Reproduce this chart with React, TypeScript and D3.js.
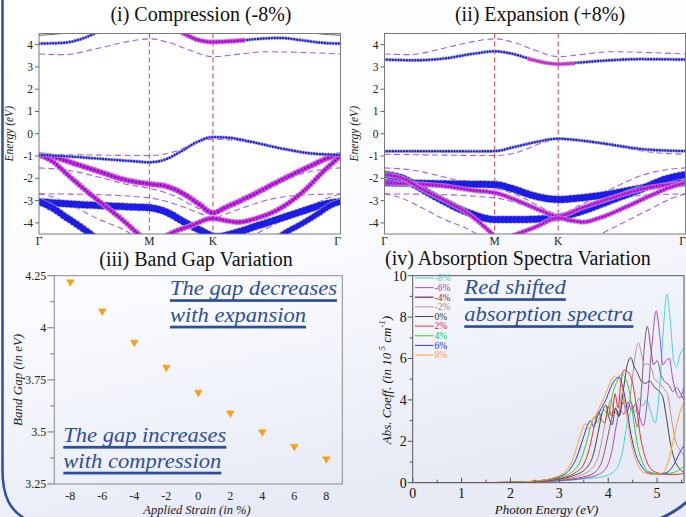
import React from 'react';
import * as d3 from 'd3';

const FONT = '"Liberation Serif", "Times New Roman", serif';
const W = 686, H = 517;

// ---------- Band structure (panels i, ii) ----------
const kPoints = [0, 0.366, 0.577, 1];
const kLabels = ['Γ', 'M', 'K', 'Γ'];
const energyTicks = [4, 3, 2, 1, 0, -1, -2, -3, -4];

// unstrained reference bands (dashed, same in both panels)
const refCond = [[0,3.58],[0.08,3.55],[0.2,3.85],[0.3,4.15],[0.366,4.26],[0.43,4.1],[0.5,3.75],[0.577,3.46],[0.65,3.55],[0.75,3.68],[0.87,3.65],[1,3.58]];
const refVal1 = [[0,-0.92],[0.15,-0.95],[0.366,-0.98],[0.45,-0.8],[0.52,-0.42],[0.577,-0.24],[0.65,-0.3],[0.75,-0.52],[0.88,-0.82],[1,-0.92]];
const refVal2 = [[0,-1.53],[0.1,-1.65],[0.2,-1.95],[0.3,-2.3],[0.366,-2.45],[0.45,-2.8],[0.52,-3.3],[0.577,-3.6],[0.65,-3.2],[0.75,-2.5],[0.87,-1.8],[1,-1.53]];
const refVal3 = [[0,-2.7],[0.15,-2.72],[0.366,-2.88],[0.45,-3.15],[0.52,-3.5],[0.577,-3.75],[0.65,-3.45],[0.75,-3.0],[0.87,-2.75],[1,-2.7]];
const refVal4 = [[0,-2.7],[0.05,-2.85],[0.12,-3.3],[0.2,-3.85],[0.28,-4.3],[0.33,-4.7],[0.45,-5.3],[0.577,-5.5],[0.66,-5.0],[0.72,-4.5],[0.8,-3.95],[0.88,-3.4],[0.95,-2.92],[1,-2.7]];
const refBands = [refCond, refVal1, refVal2, refVal3, refVal4];

// (i) compression -8 %
const compTopLine = [[0,4.42],[0.08,4.5],[0.2,4.8],[0.5,5.0],[0.8,4.8],[0.92,4.5],[1,4.42]];
const compCondA = [[0,4.05],[0.08,4.08],[0.15,4.3],[0.2,4.6],[0.25,4.9]];
const compCondB = [[0.44,4.8],[0.48,4.5],[0.53,4.2],[0.577,4.12],[0.63,4.15],[0.68,4.2]];
const compCondC = [[0.68,4.2],[0.75,4.28],[0.8,4.3],[0.87,4.2],[0.95,4.07],[1,4.05]];
const compVbm = [[0,-0.95],[0.1,-1.02],[0.2,-1.12],[0.3,-1.22],[0.366,-1.28],[0.42,-1.15],[0.47,-0.8],[0.52,-0.4],[0.577,-0.15],[0.63,-0.18],[0.7,-0.35],[0.8,-0.65],[0.9,-0.88],[1,-0.95]];
const compMag1 = [[0,-0.95],[0.05,-1.05],[0.12,-1.35],[0.2,-1.7],[0.28,-2.05],[0.366,-2.25],[0.42,-2.35],[0.48,-2.7],[0.53,-3.15],[0.577,-3.55],[0.62,-3.3],[0.7,-2.8],[0.8,-2.1],[0.9,-1.45],[0.96,-1.08],[1,-0.95]];
const compMag2 = [[0,-0.95],[0.04,-1.2],[0.1,-1.9],[0.16,-2.6],[0.22,-3.25],[0.28,-3.9],[0.33,-4.5],[0.36,-4.8]];
const compMag3 = [[0.4,-4.75],[0.44,-4.45],[0.5,-4.15],[0.577,-3.8],[0.62,-3.9],[0.66,-3.97],[0.72,-3.8],[0.8,-3.35],[0.88,-2.55],[0.95,-1.6],[1,-1.0]];
const compBlue1 = [[0,-3.05],[0.1,-3.15],[0.2,-3.22],[0.3,-3.28],[0.366,-3.32],[0.42,-3.5],[0.48,-3.95],[0.53,-4.3],[0.59,-4.62],[0.65,-4.45],[0.72,-4.15],[0.8,-3.8],[0.88,-3.45],[0.95,-3.15],[1,-3.05]];
const compBlue2 = [[0,-3.05],[0.04,-3.3],[0.09,-3.75],[0.14,-4.2],[0.17,-4.5],[0.2,-4.8]];
const compBlue3 = [[0.78,-4.8],[0.81,-4.5],[0.87,-4.05],[0.93,-3.55],[0.97,-3.2],[1,-3.05]];

// (ii) expansion +8 %
const expCond = [[0,3.33],[0.1,3.3],[0.2,3.38],[0.3,3.6],[0.366,3.7],[0.42,3.6],[0.5,3.3],[0.577,3.13],[0.65,3.2],[0.75,3.3],[0.85,3.35],[1,3.33]];
const expCondMag = [[0.48,3.36],[0.53,3.2],[0.577,3.13],[0.63,3.16]];
const expVbm = [[0,-0.78],[0.15,-0.78],[0.3,-0.79],[0.366,-0.78],[0.43,-0.6],[0.5,-0.38],[0.577,-0.22],[0.65,-0.3],[0.75,-0.48],[0.85,-0.68],[1,-0.78]];
const expBlue1 = [[0,-2.2],[0.1,-2.22],[0.2,-2.25],[0.366,-2.28],[0.42,-2.45],[0.5,-2.8],[0.577,-2.95],[0.65,-2.88],[0.75,-2.7],[0.85,-2.45],[0.93,-2.25],[1,-2.2]];
const expBlue2 = [[0,-1.83],[0.06,-2.0],[0.12,-2.45],[0.2,-3.05],[0.28,-3.55],[0.366,-3.85],[0.45,-3.85],[0.577,-3.75],[0.65,-3.5],[0.75,-3.0],[0.85,-2.5],[0.93,-2.05],[1,-1.83]];
const expMag1 = [[0,-2.2],[0.1,-2.25],[0.2,-2.35],[0.3,-2.55],[0.366,-2.65],[0.45,-3.05],[0.52,-3.45],[0.577,-3.7],[0.65,-3.35],[0.75,-2.9],[0.85,-2.5],[1,-2.2]];
const expMag2 = [[0,-1.83],[0.06,-2.0],[0.12,-2.45],[0.2,-3.0],[0.28,-3.6],[0.33,-4.15],[0.366,-4.6]];
const expMag3 = [[0.4,-4.7],[0.44,-4.5],[0.5,-4.2],[0.577,-3.78],[0.62,-3.9],[0.66,-3.96],[0.72,-3.75],[0.8,-3.3],[0.88,-2.8],[0.95,-2.4],[1,-2.2]];

const BLUE = '#1c1ce6';
const MAG = '#e01ee0';

const compFat = [
  { pts: compBlue1, color: BLUE, w: 7, gap: 4 },
  { pts: compBlue2, color: BLUE, w: 6.5, gap: 4 },
  { pts: compBlue3, color: BLUE, w: 5.5, gap: 3.6 },
  { pts: compMag1, color: MAG, w: 5, gap: 3.6, core: true },
  { pts: compMag2, color: MAG, w: 4.6, gap: 3.4, core: true },
  { pts: compMag3, color: MAG, w: 4.6, gap: 3.4, core: true },
  { pts: compVbm, color: BLUE, w: 2.4, gap: 2.8 },
  { pts: compCondA, color: BLUE, w: 2.4, gap: 2.8 },
  { pts: compCondC, color: BLUE, w: 2.4, gap: 2.8 },
  { pts: compCondB, color: MAG, w: 4, gap: 3, core: true },
];
const expFat = [
  { pts: expBlue1, color: BLUE, w: 7, gap: 4 },
  { pts: expBlue2, color: BLUE, w: 7, gap: 4 },
  { pts: expMag1, color: MAG, w: 4, gap: 3.2, core: true },
  { pts: expMag2, color: MAG, w: 4, gap: 3.2, core: true },
  { pts: expMag3, color: MAG, w: 4, gap: 3.2, core: true },
  { pts: expVbm, color: BLUE, w: 2.4, gap: 2.8 },
  { pts: expCond, color: BLUE, w: 2.4, gap: 2.8 },
  { pts: expCondMag, color: MAG, w: 3, gap: 2.8 },
];

// ---------- Band gap (panel iii) ----------
const strain = [-8, -6, -4, -2, 0, 2, 4, 6, 8];
const bandGap = [4.22, 4.08, 3.93, 3.81, 3.69, 3.59, 3.5, 3.43, 3.37];
const gapTicks = [3.25, 3.5, 3.75, 4, 4.25];
const gapTickLabels = ['3.25', '3.5', '3.75', '4', '4.25'];
const gapMinor = [3.375, 3.625, 3.875, 4.125];

// ---------- Absorption spectra (panel iv) ----------
const specLabels = ['-8%', '-6%', '-4%', '-2%', '0%', '2%', '4%', '6%', '8%'];
const specColors = ['#3dd6d6', '#a54ad6', '#8a5470', '#c09090', '#444444', '#ee3030', '#30d030', '#3535ee', '#ffa424'];
const specTextColors = ['#2ec8c8', '#9a30c8', '#7a2a50', '#b08080', '#333333', '#ee2020', '#20cc20', '#2525ee', '#ffa020'];
const specM8 = [[0,0],[1,0],[2,0.01],[2.5,0.03],[3,0.08],[3.5,0.18],[3.9,0.3],[4.1,0.5],[4.22,0.9],[4.3,1.6],[4.36,2.5],[4.42,3.2],[4.48,3.5],[4.55,3.4],[4.62,4.1],[4.7,3.7],[4.78,4.0],[4.86,3.5],[4.96,2.9],[5.05,4.5],[5.13,7.5],[5.2,9.1],[5.27,7.8],[5.34,5.9],[5.4,5.6],[5.47,6.2],[5.55,6.5]];
const specM6 = [[0,0],[1,0],[2,0.01],[2.5,0.03],[3,0.1],[3.5,0.22],[3.8,0.4],[3.98,0.8],[4.08,1.6],[4.16,2.7],[4.24,3.5],[4.32,3.3],[4.4,3.9],[4.48,3.5],[4.56,3.8],[4.64,3.2],[4.72,2.75],[4.8,4.0],[4.9,6.8],[4.98,8.3],[5.05,7.2],[5.12,5.7],[5.18,5.9],[5.25,6.0],[5.32,5.0],[5.4,4.3],[5.46,4.1],[5.55,4.6]];
const specM4 = [[0,0],[1,0],[2,0.01],[2.5,0.04],[3,0.12],[3.5,0.28],[3.75,0.55],[3.88,1.1],[3.98,2.1],[4.07,3.1],[4.15,3.6],[4.22,3.2],[4.3,3.9],[4.38,3.4],[4.46,3.9],[4.54,3.2],[4.6,2.7],[4.68,4.5],[4.74,6.6],[4.8,7.55],[4.87,6.5],[4.93,5.7],[5.0,5.9],[5.08,5.2],[5.15,4.9],[5.25,4.7],[5.32,4.4],[5.4,4.6],[5.48,4.3],[5.55,4.0]];
const specM2 = [[0,0],[1,0],[2,0.01],[2.5,0.04],[3,0.15],[3.4,0.33],[3.65,0.65],[3.8,1.3],[3.9,2.4],[3.98,3.4],[4.05,4.0],[4.12,3.5],[4.2,3.3],[4.28,4.3],[4.36,3.6],[4.42,3.8],[4.5,5.2],[4.56,6.3],[4.62,6.75],[4.68,6.2],[4.74,5.7],[4.8,5.75],[4.87,5.6],[4.95,5.0],[5.05,4.8],[5.15,4.5],[5.22,4.2],[5.3,3.0],[5.38,2.0],[5.46,1.6],[5.55,1.3]];
const spec0 = [[0,0],[1,0],[2,0.02],[2.5,0.05],[3,0.18],[3.3,0.35],[3.55,0.7],[3.7,1.4],[3.8,2.5],[3.88,3.4],[3.95,3.75],[4.02,3.1],[4.08,2.8],[4.15,3.6],[4.22,3.2],[4.3,4.3],[4.38,5.6],[4.46,6.05],[4.53,5.6],[4.6,5.3],[4.68,4.9],[4.76,4.8],[4.85,4.9],[4.95,4.6],[5.05,4.4],[5.12,4.1],[5.2,3.0],[5.28,1.8],[5.36,1.1],[5.45,0.7],[5.55,0.5]];
const specP2 = [[0,0],[1,0],[2,0.02],[2.5,0.06],[3,0.2],[3.3,0.45],[3.5,0.9],[3.62,1.7],[3.72,2.8],[3.8,3.45],[3.87,3.0],[3.93,2.9],[4.0,3.7],[4.07,3.2],[4.14,4.3],[4.2,3.6],[4.26,4.9],[4.33,5.45],[4.42,5.3],[4.5,4.8],[4.58,3.6],[4.66,2.2],[4.76,1.2],[4.86,0.7],[4.98,0.5],[5.2,0.4],[5.4,0.4],[5.55,0.45]];
const specP4 = [[0,0],[1,0],[2,0.02],[2.5,0.07],[3,0.25],[3.25,0.5],[3.42,1.0],[3.55,1.9],[3.65,2.8],[3.72,3.2],[3.78,2.9],[3.85,3.3],[3.92,3.5],[4.0,3.2],[4.08,4.2],[4.18,4.9],[4.27,5.25],[4.36,5.0],[4.44,4.3],[4.52,3.0],[4.6,1.8],[4.7,1.0],[4.82,0.55],[5.0,0.45],[5.2,0.45],[5.4,0.55],[5.55,0.8]];
const specP6 = [[0,0],[1,0],[2,0.02],[2.5,0.08],[3,0.3],[3.2,0.6],[3.35,1.2],[3.48,2.1],[3.58,2.8],[3.64,3.0],[3.7,2.7],[3.78,3.2],[3.86,3.6],[3.95,4.0],[4.05,4.6],[4.15,5.0],[4.22,5.1],[4.3,4.6],[4.38,3.6],[4.46,2.4],[4.56,1.4],[4.68,0.8],[4.8,0.5],[5.0,0.4],[5.2,0.5],[5.35,0.9],[5.45,1.4],[5.55,1.8]];
const specP8 = [[0,0],[1,0],[2,0.02],[2.5,0.08],[2.9,0.25],[3.1,0.5],[3.25,1.0],[3.38,1.9],[3.47,2.6],[3.54,2.87],[3.6,2.6],[3.68,3.0],[3.76,3.3],[3.85,3.8],[3.95,4.3],[4.05,4.9],[4.13,5.15],[4.2,5.0],[4.27,4.7],[4.34,3.8],[4.42,2.6],[4.5,1.6],[4.6,0.9],[4.72,0.5],[4.9,0.4],[5.1,0.45],[5.25,1.2],[5.38,2.6],[5.48,3.5],[5.55,3.9]];
const specSeries = [specM8, specM6, specM4, specM2, spec0, specP2, specP4, specP6, specP8];
const absTicks = [0, 2, 4, 6, 8, 10];
const absMinor = [1, 3, 5, 7, 9];
const energyAxisTicks = [0, 1, 2, 3, 4, 5];
const energyMinor = [0.5, 1.5, 2.5, 3.5, 4.5, 5.5];

const ANN = '#2d4f9b';

function FatBand({ band, x, y }) {
  const line = d3.line().x((d) => x(d[0])).y((d) => y(d[1])).curve(d3.curveMonotoneX);
  const d = line(band.pts);
  const gap = band.gap;
  return (
    <g>
      <path d={d} fill="none" stroke="#a9a9c6" strokeWidth={band.w + 1.6} strokeLinecap="round" strokeDasharray={`0 ${gap}`} opacity={0.8} />
      <path d={d} fill="none" stroke={band.color} strokeWidth={band.w} strokeLinecap="round" strokeDasharray={`0 ${gap}`} />
      {band.core && (
        <path d={d} fill="none" stroke="#2a22c8" strokeWidth={band.w * 0.38} strokeLinecap="round" strokeDasharray={`0 ${gap}`} />
      )}
    </g>
  );
}

function BandPanel({ id, left, right, title, titleX, ylabelX, fat, topLine }) {
  const top = 33.5, bottom = 234;
  const x = d3.scaleLinear().domain([0, 1]).range([left, right]);
  const y = d3.scaleLinear().domain([-4.5, 4.5]).range([bottom, top]);
  const line = d3.line().x((d) => x(d[0])).y((d) => y(d[1])).curve(d3.curveMonotoneX);
  return (
    <g>
      <defs>
        <clipPath id={id}>
          <rect x={left} y={top} width={right - left} height={bottom - top} />
        </clipPath>
      </defs>
      <text x={titleX} y={21} textAnchor="middle" fontFamily={FONT} fontSize={20} fill="#111">{title}</text>
      <rect x={left} y={top} width={right - left} height={bottom - top} fill="#fff" />
      <g clipPath={`url(#${id})`}>
        {refBands.map((b, i) => (
          <path key={i} d={line(b)} fill="none" stroke="#a25ee8" strokeWidth={1.1} strokeDasharray="6 3.5" />
        ))}
        {topLine && <path d={line(topLine)} fill="none" stroke="#555" strokeWidth={0.9} />}
        {kPoints.slice(1, 3).map((k, i) => (
          <line key={i} x1={x(k)} x2={x(k)} y1={top} y2={bottom} stroke="#e03c3c" strokeWidth={1} strokeDasharray="5 3" />
        ))}
        {fat.map((b, i) => <FatBand key={i} band={b} x={x} y={y} />)}
      </g>
      <rect x={left} y={top} width={right - left} height={bottom - top} fill="none" stroke="#7a7a7a" strokeWidth={1} />
      {energyTicks.map((t) => (
        <g key={t}>
          <line x1={left - 4} x2={left} y1={y(t)} y2={y(t)} stroke="#666" />
          <text x={left - 6} y={y(t)} dy="0.35em" textAnchor="end" fontFamily={FONT} fontSize={11.5} fill="#222">{t}</text>
        </g>
      ))}
      {kPoints.map((k, i) => (
        <text key={i} x={x(k) - (i === 3 ? 3 : 0)} y={245} textAnchor="middle" fontFamily={FONT} fontSize={11.5} fill="#222">{kLabels[i]}</text>
      ))}
      <text transform={`translate(${ylabelX},${y(0)}) rotate(-90)`} textAnchor="middle" fontFamily={FONT} fontStyle="italic" fontSize={11.5} fill="#222">Energy (eV)</text>
    </g>
  );
}

function Annot({ x, y, text, width }) {
  return (
    <g>
      <text x={x} y={y} fontFamily={FONT} fontStyle="italic" fontSize={22} fill={ANN} textLength={width} lengthAdjust="spacingAndGlyphs">{text}</text>
      <rect x={x} y={y + 5.5} width={width} height={1.5} fill="#9fb2dc" />
      <rect x={x} y={y + 4.2} width={width} height={2.6} fill={ANN} />
    </g>
  );
}

function GapPanel() {
  const left = 54.3, right = 342.3, top = 275.7, bottom = 484;
  const x = d3.scaleLinear().domain([-9, 9]).range([left, right]);
  const y = d3.scaleLinear().domain([3.25, 4.25]).range([bottom, top]);
  const tri = d3.symbol(d3.symbolTriangle, 24)();
  return (
    <g>
      <text x={196} y={265.5} textAnchor="middle" fontFamily={FONT} fontSize={20} fill="#111">(iii) Band Gap Variation</text>
      <rect x={left} y={top} width={right - left} height={bottom - top} fill="none" stroke="#8a8a8a" strokeWidth={1} />
      {gapTicks.map((t, i) => (
        <g key={t}>
          <line x1={left - 7} x2={left} y1={y(t)} y2={y(t)} stroke="#777" />
          <text x={left - 8} y={y(t)} dy="0.35em" textAnchor="end" fontFamily={FONT} fontSize={12} fill="#222">{gapTickLabels[i]}</text>
        </g>
      ))}
      {gapMinor.map((t) => (
        <line key={t} x1={left - 4} x2={left} y1={y(t)} y2={y(t)} stroke="#777" />
      ))}
      {strain.map((s) => (
        <text key={s} x={x(s)} y={500} textAnchor="middle" fontFamily={FONT} fontSize={12} fill="#222">{s}</text>
      ))}
      {strain.map((s, i) => (
        <path key={s} d={tri} transform={`translate(${x(s)},${y(bandGap[i])}) rotate(180)`} fill="#ffa010" stroke="#f09000" strokeWidth={0.5} />
      ))}
      <text transform={`translate(22,${(top + bottom) / 2}) rotate(-90)`} textAnchor="middle" fontFamily={FONT} fontStyle="italic" fontSize={13} fill="#222">Band Gap (in eV)</text>
      <text x={197} y={514} textAnchor="middle" fontFamily={FONT} fontStyle="italic" fontSize={12.5} fill="#222">Applied Strain (in %)</text>
      <Annot x={170} y={295} text="The gap decreases" width={167} />
      <Annot x={170} y={321.5} text="with expansion" width={136} />
      <Annot x={63.3} y={441.7} text="The gap increases" width={163} />
      <Annot x={63.3} y={467.5} text="with compression" width={158} />
    </g>
  );
}

function AbsPanel() {
  const left = 412.7, right = 684, top = 275.7, bottom = 482.7;
  const x = d3.scaleLinear().domain([0, 5.55]).range([left, right]);
  const y = d3.scaleLinear().domain([0, 10]).range([bottom, top]);
  const line = d3.line().x((d) => x(d[0])).y((d) => y(d[1])).curve(d3.curveMonotoneX);
  const legendY = d3.scaleLinear().domain([0, 8]).range([278, 355]);
  return (
    <g>
      <defs>
        <clipPath id="absclip">
          <rect x={left} y={top} width={right - left} height={bottom - top} />
        </clipPath>
      </defs>
      <text x={385} y={264.5} fontFamily={FONT} fontSize={20} fill="#111">(iv) Absorption Spectra Variation</text>
      <g clipPath="url(#absclip)">
        {specSeries.map((s, i) => (
          <path key={i} d={line(s)} fill="none" stroke={specColors[i]} strokeWidth={1} />
        ))}
      </g>
      <rect x={left} y={top} width={right - left} height={bottom - top} fill="none" stroke="#555" strokeWidth={1} />
      {absTicks.map((t) => (
        <g key={t}>
          <line x1={left - 5} x2={left} y1={y(t)} y2={y(t)} stroke="#555" />
          <text x={left - 6} y={y(t)} dy="0.35em" textAnchor="end" fontFamily={FONT} fontSize={14} fill="#111">{t}</text>
        </g>
      ))}
      {absMinor.map((t) => (
        <line key={t} x1={left - 3} x2={left} y1={y(t)} y2={y(t)} stroke="#555" />
      ))}
      {energyAxisTicks.map((t) => (
        <g key={t}>
          <line x1={x(t)} x2={x(t)} y1={bottom} y2={bottom - 5} stroke="#555" />
          <text x={x(t)} y={498} textAnchor="middle" fontFamily={FONT} fontSize={14} fill="#111">{t}</text>
        </g>
      ))}
      {energyMinor.map((t) => (
        <line key={t} x1={x(t)} x2={x(t)} y1={bottom} y2={bottom - 3} stroke="#555" />
      ))}
      {specLabels.map((l, i) => (
        <g key={l}>
          <line x1={415} x2={433.5} y1={legendY(i)} y2={legendY(i)} stroke={specColors[i]} strokeWidth={i === 2 ? 1.6 : 1} />
          <text x={434.5} y={legendY(i)} dy="0.35em" fontFamily={FONT} fontSize={9.5} fill={specTextColors[i]}>{l}</text>
        </g>
      ))}
      <text transform={`translate(391,380) rotate(-90)`} textAnchor="middle" fontFamily={FONT} fontStyle="italic" fontSize={13} fill="#111">
        Abs. Coeff. (in 10
        <tspan dy={-6} fontSize={9}> 5</tspan>
        <tspan dy={6}> cm</tspan>
        <tspan dy={-6} fontSize={9}>-1</tspan>
        <tspan dy={6}>)</tspan>
      </text>
      <text x={546.5} y={514} textAnchor="middle" fontFamily={FONT} fontStyle="italic" fontSize={13} fill="#111">Photon Energy (eV)</text>
      <Annot x={464.3} y={294} text="Red shifted" width={101.5} />
      <Annot x={464.3} y={321} text="absorption spectra" width={169} />
    </g>
  );
}

export default function App() {
  return (
    <div style={{ position: 'absolute', left: 0, top: 0 }}>
      <svg width={W} height={H} viewBox={`0 0 ${W} ${H}`} style={{ display: 'block' }}>
        <defs>
          <linearGradient id="bg" x1="0" y1="0" x2="0.3" y2="1">
            <stop offset="0" stopColor="#ffffff" />
            <stop offset="0.55" stopColor="#fbfcff" />
            <stop offset="1" stopColor="#e8ebf6" />
          </linearGradient>
        </defs>
        <rect x={0} y={0} width={W} height={H} fill="url(#bg)" />
        <BandPanel id="clipA" left={39} right={340.5} title="(i) Compression (-8%)" titleX={201} ylabelX={13} fat={compFat} topLine={compTopLine} />
        <BandPanel id="clipB" left={384.5} right={685.5} title="(ii) Expansion (+8%)" titleX={540} ylabelX={358} fat={expFat} topLine={null} />
        <GapPanel />
        <AbsPanel />
        <path d="M2.5,0 V470 C2.5,496 10,510 24,518" fill="none" stroke="#2f4f9a" strokeWidth={2.5} />
        <path d="M659,519 Q674,513 688,501" fill="none" stroke="#2f4f9a" strokeWidth={3} />
      </svg>
    </div>
  );
}
